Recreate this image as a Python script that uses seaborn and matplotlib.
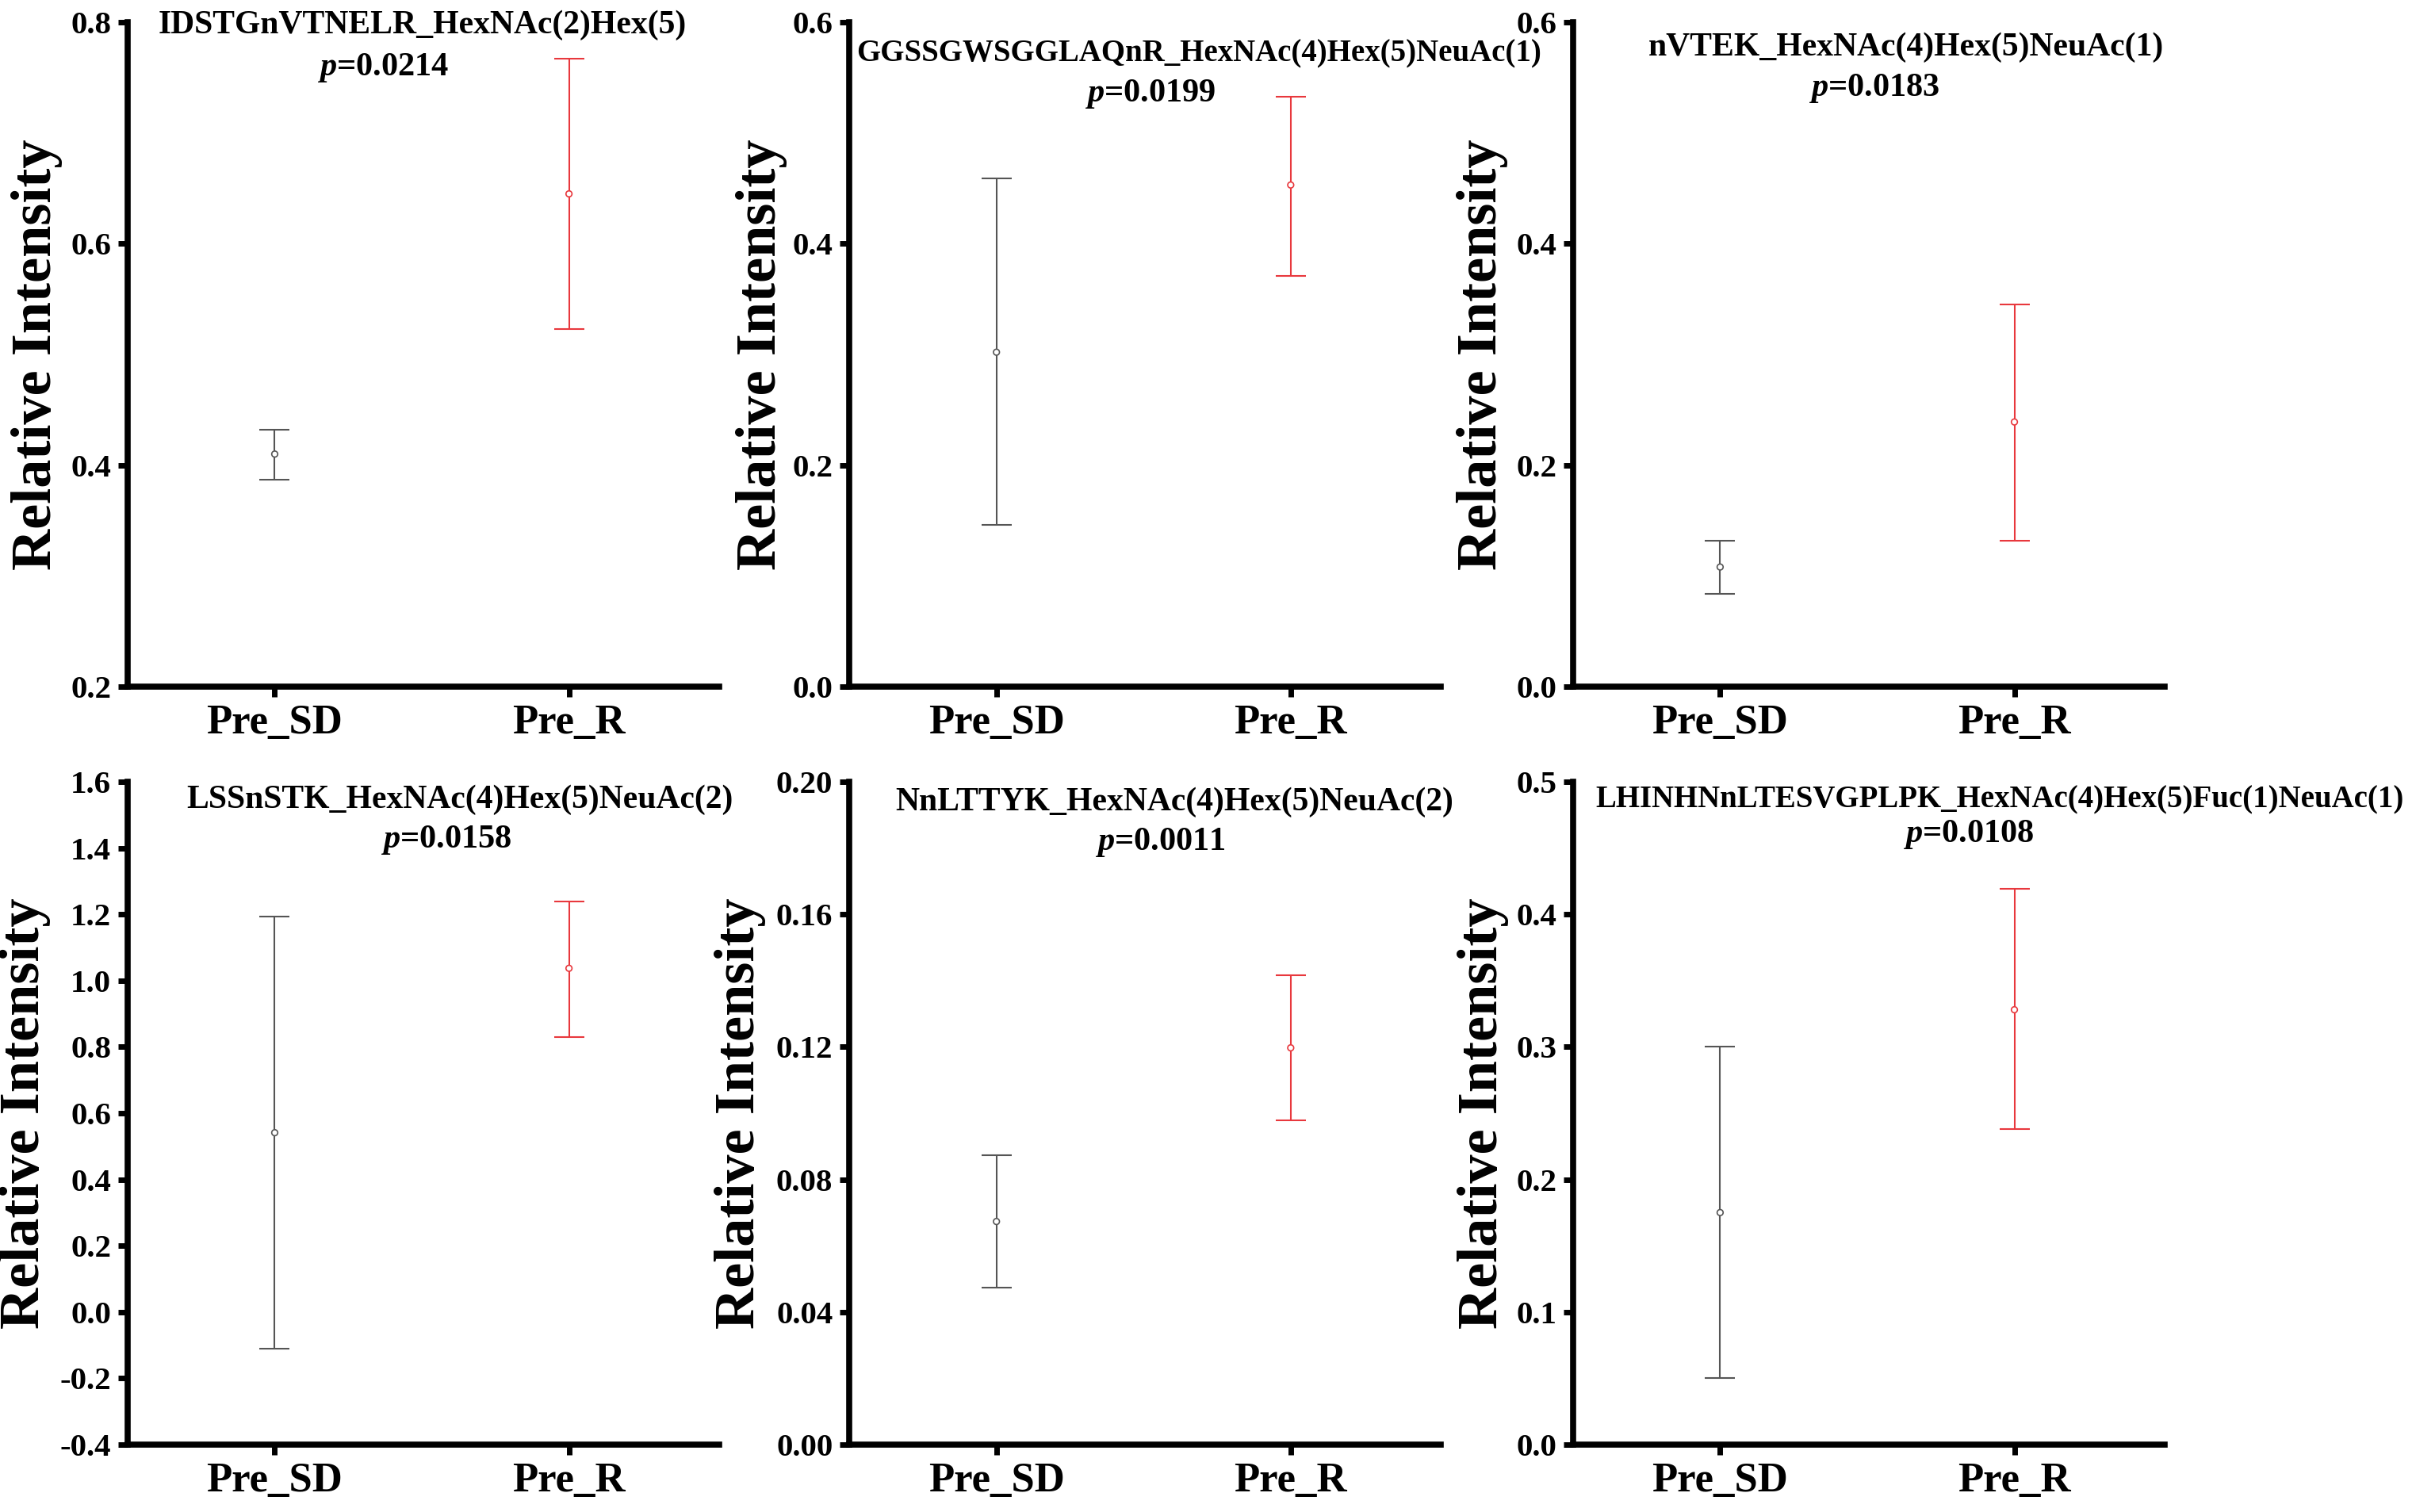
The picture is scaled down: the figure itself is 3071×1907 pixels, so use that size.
import numpy as np
import pandas as pd
import matplotlib
matplotlib.use("Agg")
import matplotlib.pyplot as plt
import seaborn as sns

# Values
groups = ["Pre_SD", "Pre_R"]

titles = [
    "IDSTGnVTNELR_HexNAc(2)Hex(5)",
    "GGSSGWSGGLAQnR_HexNAc(4)Hex(5)NeuAc(1)",
    "nVTEK_HexNAc(4)Hex(5)NeuAc(1)",
    "LSSnSTK_HexNAc(4)Hex(5)NeuAc(2)",
    "NnLTTYK_HexNAc(4)Hex(5)NeuAc(2)",
    "LHINHNnLTESVGPLPK_HexNAc(4)Hex(5)Fuc(1)NeuAc(1)",
]
pvals = ["0.0214", "0.0199", "0.0183", "0.0158", "0.0011", "0.0108"]

sd_mean = [0.410, 0.302, 0.108, 0.541, 0.0673, 0.175]
sd_low = [0.387, 0.146, 0.084, -0.111, 0.0473, 0.050]
sd_high = [0.432, 0.459, 0.132, 1.193, 0.0873, 0.300]

r_mean = [0.645, 0.453, 0.239, 1.037, 0.1197, 0.328]
r_low = [0.523, 0.371, 0.132, 0.830, 0.0978, 0.238]
r_high = [0.767, 0.533, 0.345, 1.239, 0.1416, 0.419]

y_min = [0.2, 0.0, 0.0, -0.4, 0.0, 0.0]
y_max = [0.8, 0.6, 0.6, 1.6, 0.20, 0.5]
y_step = [0.2, 0.2, 0.2, 0.2, 0.04, 0.1]
y_fmt = ["{:.1f}", "{:.1f}", "{:.1f}", "{:.1f}", "{:.2f}", "{:.1f}"]

colors = ["#555555", "#e8383d"]

# Text placement (axes fraction)
title_pos = [(0.499, 0.996), (0.591, 0.952), (0.563, 0.962),
             (0.562, 0.973), (0.549, 0.969), (0.722, 0.973)]
title_size = [30, 28, 30, 30, 30, 28]
p_pos = [(0.432, 0.931), (0.509, 0.892), (0.509, 0.900),
         (0.538, 0.912), (0.526, 0.908), (0.669, 0.920)]
ylabel_x = [-0.153, -0.149, -0.153, -0.173, -0.185, -0.152]

sns.set_style("ticks")
plt.rcParams["font.family"] = ["Liberation Serif", "DejaVu Serif"]
plt.rcParams["font.weight"] = "bold"
plt.rcParams["mathtext.fontset"] = "custom"
plt.rcParams["mathtext.it"] = "Liberation Serif:italic:bold"
plt.rcParams["mathtext.rm"] = "Liberation Serif:bold"
plt.rcParams["text.color"] = "black"
plt.rcParams["axes.labelcolor"] = "black"
plt.rcParams["xtick.color"] = "black"
plt.rcParams["ytick.color"] = "black"

fig = plt.figure(figsize=(30.71, 19.07), dpi=100)

lefts = [0.0524, 0.3488, 0.6460]
width = 0.2429
bottoms = [0.5459, 0.0446]
heights = [0.4394, 0.4384]

for i in range(6):
    row = i // 3
    col = i % 3
    ax = fig.add_axes([lefts[col], bottoms[row], width, heights[row]])

    df = pd.DataFrame({
        "group": groups,
        "pos": [0, 1],
        "mean": [sd_mean[i], r_mean[i]],
        "low": [sd_low[i], r_low[i]],
        "high": [sd_high[i], r_high[i]],
    })

    # error bars
    for j in range(len(groups)):
        m = df.loc[j, "mean"]
        ax.errorbar(
            [df.loc[j, "pos"]], [m],
            yerr=[[m - df.loc[j, "low"]], [df.loc[j, "high"] - m]],
            fmt="none",
            ecolor=colors[j],
            elinewidth=1.5,
            capsize=13.5,
            capthick=1.5,
            zorder=2
        )

    # mean markers
    sns.scatterplot(
        data=df,
        x="pos",
        y="mean",
        ax=ax,
        marker="o",
        s=30,
        facecolor="white",
        edgecolor=colors,
        linewidth=1.2,
        zorder=3,
        legend=False
    )

    ax.set_xlim(-0.5, 1.51)
    ax.set_xticks([0, 1])
    ax.set_xticklabels(groups, fontsize=38, fontweight="bold", color="black")

    ticks = np.arange(y_min[i], y_max[i] + y_step[i] / 2, y_step[i])
    ax.set_ylim(y_min[i], y_max[i])
    ax.set_yticks(ticks)
    ax.set_yticklabels([y_fmt[i].format(t + 0.0) for t in ticks],
                       fontsize=29.5, fontweight="bold", color="black")

    ax.set_ylabel("Relative Intensity", fontsize=52, fontweight="bold",
                  color="black")
    ax.yaxis.label.set_va("center")
    ax.yaxis.set_label_coords(ylabel_x[i], 0.5)
    ax.set_xlabel("")

    sns.despine(ax=ax)
    for side in ["left", "bottom"]:
        ax.spines[side].set_linewidth(5.5)
        ax.spines[side].set_color("black")
    ax.tick_params(axis="both", width=5, length=9, color="black")
    ax.tick_params(axis="x", pad=7)
    ax.tick_params(axis="y", pad=6)

    ax.text(title_pos[i][0], title_pos[i][1], titles[i],
            transform=ax.transAxes, ha="center", va="center",
            fontsize=title_size[i], fontweight="bold", color="black")
    ax.text(p_pos[i][0], p_pos[i][1], "$p$=" + pvals[i],
            transform=ax.transAxes, ha="center", va="center",
            fontsize=30.5, fontweight="bold", color="black")

plt.savefig("out.png", dpi=100)
plt.close()
